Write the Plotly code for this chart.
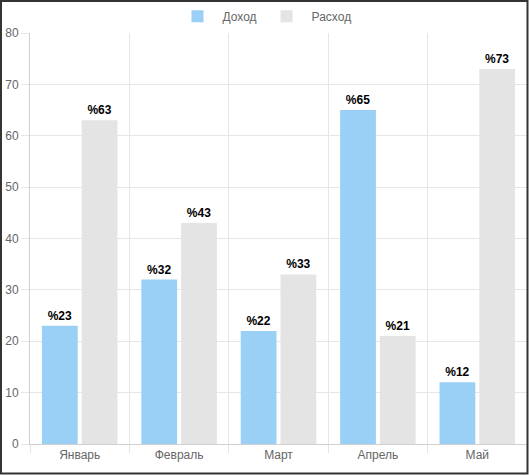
import plotly.graph_objects as go

# данные
months = ['Январь', 'Февраль', 'Март', 'Апрель', 'Май']
income = [23, 32, 22, 65, 12]
expense = [63, 43, 33, 21, 73]

fig = go.Figure()

fig.add_trace(go.Bar(
    x=months, y=income, name='Доход',
    marker=dict(color='#9ad0f5', line=dict(width=0)),
    text=['%' + str(v) for v in income], textposition='outside',
    textfont=dict(family='Liberation Sans', size=12, color='black', weight='bold'),
    cliponaxis=False))

fig.add_trace(go.Bar(
    x=months, y=expense, name='Расход',
    marker=dict(color='#e4e4e4', line=dict(width=0)),
    text=['%' + str(v) for v in expense], textposition='outside',
    textfont=dict(family='Liberation Sans', size=12, color='black', weight='bold'),
    cliponaxis=False))

fig.update_layout(
    width=529, height=475,
    margin=dict(l=30, r=2, t=33, b=31, autoexpand=False),
    plot_bgcolor='white', paper_bgcolor='white',
    font=dict(family='Liberation Sans', size=12, color='#666'),
    barmode='group', bargap=0.2, bargroupgap=0.1,
    showlegend=True,
    legend=dict(orientation='h', xref='container', yref='container',
                x=0.5, xanchor='center', y=0.966, yanchor='middle',
                itemwidth=40, font=dict(size=12, color='#666')),
    shapes=[dict(type='rect', xref='paper', yref='paper',
                 x0=-0.0584, x1=1.001, y0=-0.0718, y1=1.078,
                 line=dict(color='#333', width=2), layer='above')])

fig.update_xaxes(tickson='boundaries', showgrid=True, gridcolor='#e6e6e6',
                 ticks='outside', ticklen=8, tickcolor='#e6e6e6', automargin=False,
                 showline=True, linecolor='#d0d0d0', mirror=False)
fig.update_yaxes(range=[0, 80], dtick=10, showgrid=True, gridcolor='#e6e6e6',
                 ticks='outside', ticklen=8, tickcolor='#e6e6e6', automargin=False,
                 showline=True, linecolor='#d0d0d0', zeroline=False)

# убираем отступ страницы, чтобы график стоял в углу
fig.write_html('out.html', config={'displayModeBar': False},
               post_script="document.body.style.margin='0';")
